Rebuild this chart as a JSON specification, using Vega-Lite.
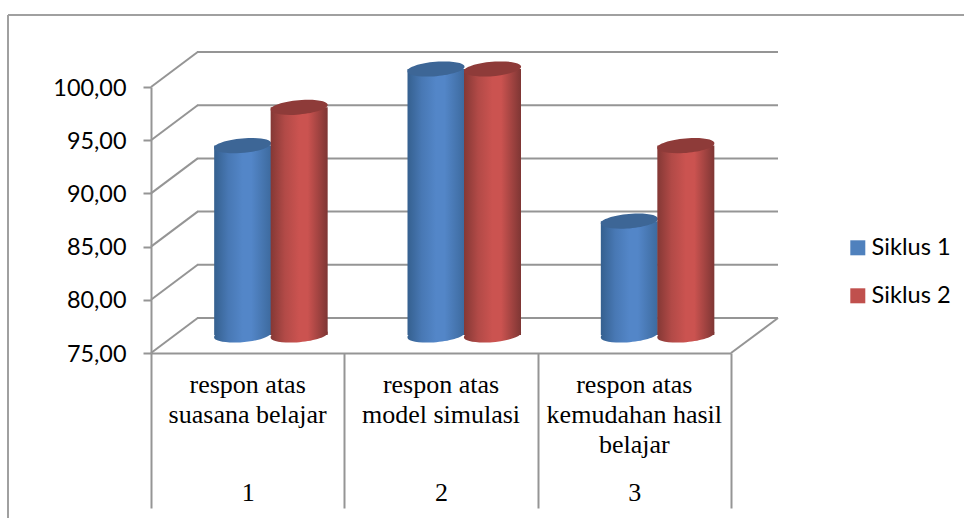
{
  "$schema": "https://vega.github.io/schema/vega-lite/v6.json",
  "width": 580,
  "height": 266,
  "autosize": {"type": "none"},
  "padding": {"left": 151, "top": 87, "right": 233, "bottom": 165},
  "background": "white",
  "view": {"stroke": null},
  "datasets": {
    "responses": [
      {"cat": "1", "series": "Siklus 1", "value": 92.8},
      {"cat": "1", "series": "Siklus 2", "value": 96.4},
      {"cat": "2", "series": "Siklus 1", "value": 100},
      {"cat": "2", "series": "Siklus 2", "value": 100},
      {"cat": "3", "series": "Siklus 1", "value": 85.7},
      {"cat": "3", "series": "Siklus 2", "value": 92.8}
    ],
    "labels": [
      {"cat": "1", "label": "respon atas\nsuasana belajar"},
      {"cat": "2", "label": "respon atas\nmodel simulasi"},
      {"cat": "3", "label": "respon atas\nkemudahan hasil\nbelajar"}
    ],
    "levels": [{"v": 75}, {"v": 80}, {"v": 85}, {"v": 90}, {"v": 95}, {"v": 100}]
  },
  "data": {"name": "responses"},
  "layer": [
    {
      "data": {"values": [{"side": "top"}]},
      "mark": {"type": "rule", "color": "#a0a0a0", "strokeWidth": 2},
      "encoding": {"x": {"value": -143}, "x2": {"value": 813}, "y": {"value": -72}, "y2": {"value": -72}}
    },
    {
      "data": {"values": [{"side": "left"}]},
      "mark": {"type": "rule", "color": "#a0a0a0", "strokeWidth": 2},
      "encoding": {"x": {"value": -143}, "x2": {"value": -143}, "y": {"value": -72}, "y2": {"value": 431}}
    },
    {
      "data": {"name": "levels"},
      "mark": {"type": "rule", "color": "#959595", "strokeWidth": 2, "xOffset": -50.67, "x2Offset": 143.67, "yOffset": -35, "y2Offset": -35},
      "encoding": {
        "x": {"datum": "1", "type": "nominal"},
        "x2": {"datum": "3"},
        "y": {"field": "v", "type": "quantitative"},
        "y2": {"field": "v"}
      }
    },
    {
      "data": {"name": "levels"},
      "mark": {"type": "rule", "color": "#959595", "strokeWidth": 2, "xOffset": -96.67, "x2Offset": -50, "y2Offset": -35},
      "encoding": {
        "x": {"datum": "1", "type": "nominal"},
        "x2": {"datum": "1"},
        "y": {"field": "v", "type": "quantitative"},
        "y2": {"field": "v"}
      }
    },
    {
      "data": {"values": [{"v": 75}]},
      "mark": {"type": "rule", "color": "#959595", "strokeWidth": 2, "xOffset": 96.67, "x2Offset": 143.67, "y2Offset": -35},
      "encoding": {
        "x": {"datum": "3", "type": "nominal"},
        "x2": {"datum": "3"},
        "y": {"field": "v", "type": "quantitative"},
        "y2": {"field": "v"}
      }
    },
    {
      "transform": [{"filter": "datum.series === 'Siklus 1'"}],
      "mark": {
        "type": "point", "filled": true, "opacity": 1, "size": 3249, "xOffset": -5, "yOffset": -18, "strokeWidth": 0,
        "shape": "M-1,0.06A1,0.25,-5,1,1,1,-0.06A1,0.25,-5,1,1,-1,0.06Z",
        "fill": {"gradient": "linear", "x1": 0, "x2": 1, "y1": 0, "y2": 0, "stops": [
          {"offset": 0, "color": "#35608f"}, {"offset": 0.25, "color": "#4878b4"}, {"offset": 0.5, "color": "#5386c8"}, {"offset": 0.65, "color": "#5386c8"}, {"offset": 1, "color": "#3d6a9e"}]}
      },
      "encoding": {
        "x": {"field": "cat", "type": "nominal"},
        "y": {"datum": 75, "type": "quantitative"}
      }
    },
    {
      "transform": [{"filter": "datum.series === 'Siklus 1'"}],
      "mark": {
        "type": "bar", "size": 57, "xOffset": -5, "yOffset": -18, "y2Offset": -18, "cornerRadius": 0,
        "fill": {"gradient": "linear", "x1": 0, "x2": 1, "y1": 0, "y2": 0, "stops": [
          {"offset": 0, "color": "#35608f"}, {"offset": 0.25, "color": "#4878b4"}, {"offset": 0.5, "color": "#5386c8"}, {"offset": 0.65, "color": "#5386c8"}, {"offset": 1, "color": "#3d6a9e"}]}
      },
      "encoding": {
        "x": {
          "field": "cat", "type": "nominal", "title": null,
          "scale": {"domain": ["1", "2", "3"], "paddingInner": 0, "paddingOuter": 0},
          "axis": {
            "labelAngle": 0, "labelAlign": "center", "labelFont": "Liberation Serif", "labelFontSize": 26, "labelColor": "#000000",
            "labelBaseline": "alphabetic", "labelPadding": -8, "tickBand": "extent", "tickSize": 155, "tickWidth": 2,
            "tickColor": "#959595", "domainColor": "#959595", "domainWidth": 2, "grid": false
          }
        },
        "y": {
          "field": "value", "type": "quantitative", "title": null,
          "scale": {"domain": [75, 100], "nice": false, "zero": false},
          "axis": {
            "values": [75, 80, 85, 90, 95, 100], "grid": false, "tickSize": 8, "tickWidth": 2,
            "tickColor": "#959595", "domainColor": "#959595", "domainWidth": 2,
            "labelFont": "Lato", "labelFontSize": 23.4, "labelColor": "#000000", "labelPadding": 17, "labelOffset": 1,
            "labelExpr": "replace(format(datum.value, '.2f'), '.', ',')"
          }
        },
        "y2": {"datum": 75}
      }
    },
    {
      "transform": [{"filter": "datum.series === 'Siklus 1'"}],
      "mark": {
        "type": "point", "filled": true, "opacity": 1, "size": 3249, "xOffset": -5, "yOffset": -18, "strokeWidth": 0,
        "shape": "M-1,0.06A1,0.25,-5,1,1,1,-0.06A1,0.25,-5,1,1,-1,0.06Z",
        "fill": "#3d6696"
      },
      "encoding": {
        "x": {"field": "cat", "type": "nominal"},
        "y": {"field": "value", "type": "quantitative"}
      }
    },
    {
      "transform": [{"filter": "datum.series === 'Siklus 2'"}],
      "mark": {
        "type": "point", "filled": true, "opacity": 1, "size": 3249, "xOffset": 51.5, "yOffset": -18, "strokeWidth": 0,
        "shape": "M-1,0.06A1,0.25,-5,1,1,1,-0.06A1,0.25,-5,1,1,-1,0.06Z",
        "fill": {"gradient": "linear", "x1": 0, "x2": 1, "y1": 0, "y2": 0, "stops": [
          {"offset": 0, "color": "#843835"}, {"offset": 0.25, "color": "#b24a47"}, {"offset": 0.5, "color": "#cb5350"}, {"offset": 0.65, "color": "#cb5350"}, {"offset": 1, "color": "#7e3634"}]}
      },
      "encoding": {
        "x": {"field": "cat", "type": "nominal"},
        "y": {"datum": 75, "type": "quantitative"}
      }
    },
    {
      "transform": [{"filter": "datum.series === 'Siklus 2'"}],
      "mark": {
        "type": "bar", "size": 57, "xOffset": 51.5, "yOffset": -18, "y2Offset": -18, "cornerRadius": 0,
        "fill": {"gradient": "linear", "x1": 0, "x2": 1, "y1": 0, "y2": 0, "stops": [
          {"offset": 0, "color": "#843835"}, {"offset": 0.25, "color": "#b24a47"}, {"offset": 0.5, "color": "#cb5350"}, {"offset": 0.65, "color": "#cb5350"}, {"offset": 1, "color": "#7e3634"}]}
      },
      "encoding": {
        "x": {"field": "cat", "type": "nominal"},
        "y": {"field": "value", "type": "quantitative"},
        "y2": {"datum": 75}
      }
    },
    {
      "transform": [{"filter": "datum.series === 'Siklus 2'"}],
      "mark": {
        "type": "point", "filled": true, "opacity": 1, "size": 3249, "xOffset": 51.5, "yOffset": -18, "strokeWidth": 0,
        "shape": "M-1,0.06A1,0.25,-5,1,1,1,-0.06A1,0.25,-5,1,1,-1,0.06Z",
        "fill": "#8e3b39"
      },
      "encoding": {
        "x": {"field": "cat", "type": "nominal"},
        "y": {"field": "value", "type": "quantitative"}
      }
    },
    {
      "data": {"name": "labels"},
      "mark": {
        "type": "text", "font": "Liberation Serif", "fontSize": 26, "color": "#000000",
        "baseline": "alphabetic", "align": "center", "dy": 40, "lineBreak": "\n", "lineHeight": 30
      },
      "encoding": {
        "x": {"field": "cat", "type": "nominal"},
        "y": {"datum": 75, "type": "quantitative"},
        "text": {"field": "label"}
      }
    },
    {
      "mark": {"type": "point", "shape": "square", "filled": true, "opacity": 0},
      "encoding": {
        "x": {"field": "cat", "type": "nominal"},
        "y": {"field": "value", "type": "quantitative"},
        "color": {
          "field": "series", "type": "nominal",
          "scale": {"domain": ["Siklus 1", "Siklus 2"], "range": ["#4f81bd", "#c0504d"]},
          "legend": {
            "orient": "none", "legendX": 695, "legendY": 149, "title": null, "symbolType": "square",
            "symbolSize": 225, "symbolOpacity": 1, "symbolStrokeWidth": 0, "labelFont": "Lato", "labelFontSize": 23.6,
            "labelColor": "#000000", "labelOffset": 2, "rowPadding": 23, "labelLimit": 200
          }
        }
      }
    }
  ]
}
